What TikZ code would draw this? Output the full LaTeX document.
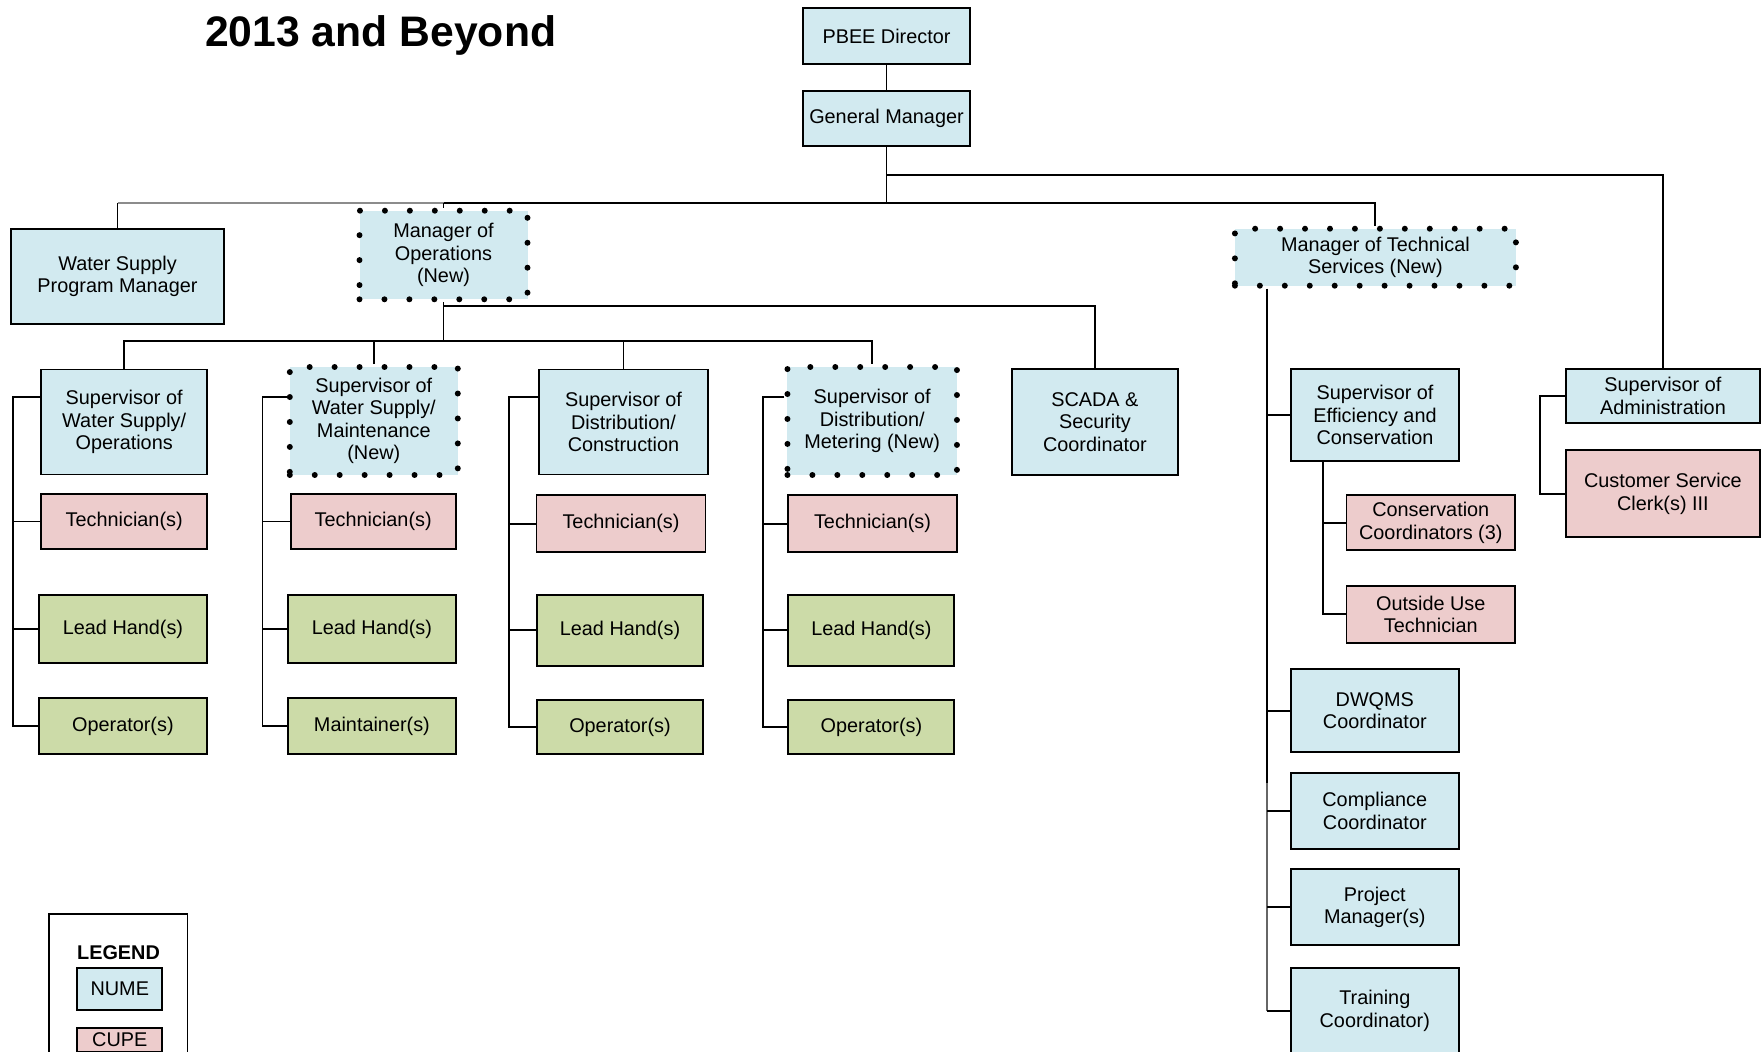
\documentclass[tikz,border=0pt]{standalone}
\usepackage{fontspec}
\setmainfont{Liberation Sans}
\usetikzlibrary{calc}
\definecolor{numeblue}{RGB}{210,234,240}
\definecolor{cupepink}{RGB}{237,204,204}
\definecolor{fieldgreen}{RGB}{204,219,168}

\begin{document}
\begin{tikzpicture}[x=0.02cm,y=-0.02cm,
    every node/.style={font=\fontsize{11.3}{12.8}\selectfont, align=center, inner sep=1pt},
    wh/.style 2 args={minimum width=#1*0.02cm, minimum height=#2*0.02cm},
    numebox/.style={draw, line width=1.1pt, fill=numeblue},
    cupebox/.style={draw, line width=1.1pt, fill=cupepink},
    fieldbox/.style={draw, line width=1.1pt, fill=fieldgreen},
    newbox/.style={draw, fill=numeblue, line width=3.4pt, line cap=round, dash pattern=on 0pt off 14.2pt},
    link/.style={line width=1.1pt}]
        \useasboundingbox (0,0) rectangle (1764,1051);
        \node[anchor=base west, font=\fontsize{24.3}{28}\selectfont\bfseries] (title) at (203,47) {2013 and Beyond};

        % top of the chart
        \node[numebox, wh={167}{56}] (pbee) at (886.5,36) {PBEE Director};
        \node[numebox, wh={167}{54.5}] (gm) at (886.5,118.3) {General Manager};
        \node[numebox, wh={213}{94.5}] (wspm) at (117.5,276.3) {Water Supply\\Program Manager};
        \node[newbox, wh={168}{88.6}] (mops) at (443.5,255) {Manager of\\Operations\\(New)};
        \node[newbox, wh={281}{57}] (mtech) at (1375.4,257.2) {Manager of Technical\\Services (New)};

        % operations
        \node[numebox, wh={166}{105}] (s1) at (124.2,422) {Supervisor of\\Water Supply/\\Operations};
        \node[newbox, wh={168}{108}] (s2) at (373.8,421) {Supervisor of\\Water Supply/\\Maintenance\\(New)};
        \node[numebox, wh={169}{105}] (s3) at (623.5,422) {Supervisor of\\Distribution/\\Construction};
        \node[newbox, wh={169.5}{108}] (s4) at (872.2,421) {Supervisor of\\Distribution/\\Metering (New)};
        \node[numebox, wh={166}{105.7}] (scada) at (1094.9,422) {SCADA \&\\Security\\Coordinator};
        \node[cupebox, wh={166}{55.6}] (t1) at (124.2,521.5) {Technician(s)};
        \node[cupebox, wh={165}{55.6}] (t2) at (373.2,521.5) {Technician(s)};
        \node[cupebox, wh={169}{56.7}] (t3) at (621,523.7) {Technician(s)};
        \node[cupebox, wh={168.4}{56.7}] (t4) at (872.5,523.7) {Technician(s)};
        \node[fieldbox, wh={168}{68.6}] (l1) at (123,629) {Lead Hand(s)};
        \node[fieldbox, wh={168}{68.6}] (l2) at (371.9,629) {Lead Hand(s)};
        \node[fieldbox, wh={166.7}{71}] (l3) at (620,630.2) {Lead Hand(s)};
        \node[fieldbox, wh={166}{71}] (l4) at (871.4,630.2) {Lead Hand(s)};
        \node[fieldbox, wh={168.3}{56.3}] (o1) at (122.9,725.9) {Operator(s)};
        \node[fieldbox, wh={168}{56.3}] (o2) at (371.9,725.9) {Maintainer(s)};
        \node[fieldbox, wh={166.7}{54.3}] (o3) at (620,726.9) {Operator(s)};
        \node[fieldbox, wh={166}{54.3}] (o4) at (871.4,726.9) {Operator(s)};

        % technical services
        \node[numebox, wh={168}{92.3}] (seff) at (1375,415.2) {Supervisor of\\Efficiency and\\Conservation};
        \node[cupebox, wh={168.7}{54.7}] (ccoord) at (1430.8,522.7) {Conservation\\Coordinators (3)};
        \node[cupebox, wh={168.7}{56.7}] (outuse) at (1430.8,614.3) {Outside Use\\Technician};
        \node[numebox, wh={168.4}{82.5}] (dwqms) at (1374.8,710.7) {DWQMS\\Coordinator};
        \node[numebox, wh={168.4}{76.3}] (compl) at (1374.8,810.9) {Compliance\\Coordinator};
        \node[numebox, wh={168.4}{76}] (proj) at (1374.8,907.3) {Project\\Manager(s)};
        \node[numebox, wh={168.4}{86}] (train) at (1374.8,1011) {Training\\Coordinator)};

        % administration
        \node[numebox, wh={194.2}{53.4}] (sadm) at (1662.9,396) {Supervisor of\\Administration};
        \node[cupebox, wh={194.2}{87.3}] (csc) at (1662.9,493.7) {Customer Service\\Clerk(s) III};

        % legend
        \draw[link] (49.4,914) rectangle (187.5,1100);
        \node[anchor=base, font=\fontsize{11.3}{12.8}\selectfont\bfseries] (leg) at (118.5,959) {LEGEND};
        \node[numebox, wh={85}{41.7}] (nume) at (119.8,989.2) {NUME};
        \node[cupebox, wh={85}{24}, inner sep=0pt] (cupe) at (119.8,1040) {CUPE};

        % lines
        \coordinate (bus) at (886.5,203);
        \coordinate (grayend) at (443.5,203);
        \coordinate (admbus) at (886.5,175);
        \coordinate (scadabus) at (443.5,306);
        \coordinate (supbus) at (443.5,341);
        \draw[link] (pbee) -- (gm);
        \draw[link] (gm) -- (bus);
        \draw[link, black!45] (wspm.north |- bus) -- (grayend);
        \draw[link] (wspm.north) -- (wspm.north |- bus);
        \draw[link] (grayend) -- (bus) -| (mtech.north);
        \draw[link] (mops.north) -- (mops.north |- bus);
        \draw[link] (admbus) -| (sadm.north);
        \draw[link] (mops.south) -- (supbus);
        \draw[link] (scadabus) -| (scada.north);
        \draw[link] (s1.north) |- (supbus) -| (s4.north);
        \draw[link] (s2.north) -- (s2.north |- supbus);
        \draw[link] (s3.north) -- (s3.north |- supbus);

        \coordinate (sj) at (0,396.7);
        \coordinate (b1) at (13.4,0);
        \coordinate (b2) at (262.5,0);
        \coordinate (b3) at (509.4,0);
        \coordinate (b4) at (762.6,0);
        \draw[link] (s1.west |- sj) -| (b1 |- o1) -- (o1.west);
        \draw[link] (t1.west) -- (t1.west -| b1);
        \draw[link] (l1.west) -- (l1.west -| b1);
        \draw[link] (s2.west |- sj) -| (b2 |- o2) -- (o2.west);
        \draw[link] (t2.west) -- (t2.west -| b2);
        \draw[link] (l2.west) -- (l2.west -| b2);
        \draw[link] (s3.west |- sj) -| (b3 |- o3) -- (o3.west);
        \draw[link] (t3.west) -- (t3.west -| b3);
        \draw[link] (l3.west) -- (l3.west -| b3);
        \draw[link] (s4.west |- sj) -| (b4 |- o4) -- (o4.west);
        \draw[link] (t4.west) -- (t4.west -| b4);
        \draw[link] (l4.west) -- (l4.west -| b4);

        \coordinate (tb) at (1267,0);
        \coordinate (tgray) at (1267,783);
        \coordinate (eb) at (1323.4,0);
        \coordinate (ab) at (1540,0);
        \draw[link] (mtech.south -| tb) -- (tgray);
        \draw[link, black!60] (tgray) -- (tgray |- train.west);
        \draw[link] (seff.west) -- (seff.west -| tb);
        \draw[link] (dwqms.west) -- (dwqms.west -| tb);
        \draw[link] (compl.west) -- (compl.west -| tb);
        \draw[link] (proj.west) -- (proj.west -| tb);
        \draw[link] (train.west) -- (train.west -| tb);
        \draw[link] (seff.south -| eb) |- (outuse.west);
        \draw[link] (ccoord.west) -- (ccoord.west -| eb);
        \draw[link] (sadm.west) -| (ab |- csc) -- (csc.west);
\end{tikzpicture}
\end{document}
